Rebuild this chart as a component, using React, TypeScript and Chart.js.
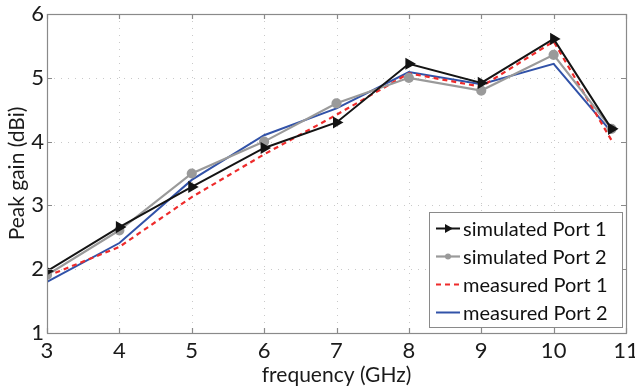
import React, { useEffect, useRef } from "react";
import { Chart, registerables } from "chart.js";
Chart.register(...registerables);

const freq = [3, 4, 5, 6, 7, 8, 9, 10, 10.8];
const simPort1 = [1.97, 2.66, 3.29, 3.9, 4.3, 5.22, 4.92, 5.61, 4.2];
const simPort2 = [1.91, 2.61, 3.5, 4.0, 4.6, 5.0, 4.8, 5.36, 4.2];
const measPort1 = [1.89, 2.35, 3.13, 3.8, 4.42, 5.07, 4.86, 5.57, 4.02];
const measPort2 = [1.8, 2.41, 3.4, 4.1, 4.52, 5.09, 4.9, 5.22, 4.15];
const seriesLabels = ["simulated Port 1", "simulated Port 2", "measured Port 1", "measured Port 2"];
const xTitle = "frequency (GHz)";
const yTitle = "Peak gain (dBi)";

const FONT = "Lato, 'Open Sans', sans-serif";
const BLACK = "#141414";
const GRAY = "#9a9a9a";
const RED = "#ee2b2b";
const BLUE = "#3152a8";
const FRAME = "#8a8a8a";

const pts = (ys: number[]) => ys.map((y, i) => ({ x: freq[i], y }));

const framePlugin = {
  id: "framePlugin",
  beforeDatasetsDraw(chart: any) {
    const { ctx, chartArea: a, scales } = chart;
    const x = scales.x, y = scales.y;
    ctx.save();
    ctx.strokeStyle = "#c9c9c9";
    ctx.lineWidth = 1;
    ctx.setLineDash([1, 6]);
    x.ticks.forEach((t: any) => {
      const px = Math.round(x.getPixelForValue(t.value)) + 0.5;
      if (px <= a.left + 1 || px >= a.right - 1) return;
      ctx.beginPath(); ctx.moveTo(px, a.top); ctx.lineTo(px, a.bottom); ctx.stroke();
    });
    y.ticks.forEach((t: any) => {
      const py = Math.round(y.getPixelForValue(t.value)) + 0.5;
      if (py <= a.top + 1 || py >= a.bottom - 1) return;
      ctx.beginPath(); ctx.moveTo(a.left, py); ctx.lineTo(a.right, py); ctx.stroke();
    });
    ctx.restore();
  },
  afterDatasetsDraw(chart: any) {
    const { ctx, chartArea: a, scales } = chart;
    const x = scales.x, y = scales.y;
    ctx.save();
    ctx.setLineDash([]);
    ctx.strokeStyle = FRAME;
    ctx.lineWidth = 1.2;
    ctx.strokeRect(Math.round(a.left) + 0.5, Math.round(a.top) + 0.5, Math.round(a.right - a.left), Math.round(a.bottom - a.top));
    const tl = 5;
    x.ticks.forEach((t: any) => {
      const px = Math.round(x.getPixelForValue(t.value)) + 0.5;
      ctx.beginPath();
      ctx.moveTo(px, a.bottom); ctx.lineTo(px, a.bottom - tl);
      ctx.moveTo(px, a.top); ctx.lineTo(px, a.top + tl);
      ctx.stroke();
    });
    y.ticks.forEach((t: any) => {
      const py = Math.round(y.getPixelForValue(t.value)) + 0.5;
      ctx.beginPath();
      ctx.moveTo(a.left, py); ctx.lineTo(a.left + tl, py);
      ctx.moveTo(a.right, py); ctx.lineTo(a.right - tl, py);
      ctx.stroke();
    });

    // legend inside plot, lower right
    const bx = 429.5, by = 212.5, bw = 193, bh = 115;
    ctx.fillStyle = "#ffffff";
    ctx.fillRect(bx, by, bw, bh);
    ctx.strokeStyle = FRAME;
    ctx.lineWidth = 1;
    ctx.strokeRect(bx, by, bw, bh);
    ctx.font = `20px ${FONT}`;
    ctx.textBaseline = "middle";
    ctx.textAlign = "left";
    const rowH = 28;
    chart.data.datasets.forEach((ds: any, i: number) => {
      const cy = by + 16 + i * rowH;
      const x0 = 436, x1 = 460;
      ctx.save();
      ctx.strokeStyle = ds.borderColor;
      ctx.lineWidth = ds.borderWidth;
      ctx.setLineDash(ds.borderDash || []);
      ctx.beginPath(); ctx.moveTo(x0, cy); ctx.lineTo(x1, cy); ctx.stroke();
      ctx.setLineDash([]);
      const mx = (x0 + x1) / 2;
      if (ds.pointStyle === "triangle") {
        ctx.fillStyle = ds.pointBackgroundColor;
        ctx.beginPath();
        ctx.moveTo(mx + 5, cy); ctx.lineTo(mx - 3, cy - 4.5); ctx.lineTo(mx - 3, cy + 4.5); ctx.closePath();
        ctx.fill();
      } else if (ds.pointStyle === "circle" && ds.pointRadius > 0) {
        ctx.fillStyle = ds.pointBackgroundColor;
        ctx.beginPath(); ctx.arc(mx, cy, 3, 0, Math.PI * 2); ctx.fill();
      }
      ctx.restore();
      ctx.fillStyle = "#111111";
      ctx.fillText(ds.label, 463, cy + 1);
    });
    ctx.restore();
  },
};

export default function App() {
  const ref = useRef<HTMLCanvasElement | null>(null);
  useEffect(() => {
    document.body.style.margin = "0";
    const canvas = ref.current;
    if (!canvas) return;
    const chart = new Chart(canvas, {
      type: "line",
      data: {
        datasets: [
          {
            label: seriesLabels[0], data: pts(simPort1), borderColor: BLACK, backgroundColor: BLACK,
            borderWidth: 2, pointStyle: "triangle", pointRotation: 90, pointRadius: 5,
            pointBackgroundColor: BLACK, pointBorderColor: BLACK, tension: 0,
          },
          {
            label: seriesLabels[1], data: pts(simPort2), borderColor: GRAY, backgroundColor: GRAY,
            borderWidth: 2.2, pointStyle: "circle", pointRadius: 4, pointBackgroundColor: GRAY,
            pointBorderColor: GRAY, tension: 0,
          },
          {
            label: seriesLabels[2], data: pts(measPort1), borderColor: RED, backgroundColor: RED,
            borderWidth: 2.2, borderDash: [5, 4], pointRadius: 0, pointStyle: "line", tension: 0,
          },
          {
            label: seriesLabels[3], data: pts(measPort2), borderColor: BLUE, backgroundColor: BLUE,
            borderWidth: 2, pointRadius: 0, pointStyle: "line", tension: 0,
          },
        ],
      },
      options: {
        responsive: false,
        animation: false,
        layout: { padding: { top: 14, right: 9, left: 0, bottom: 0 } },
        plugins: { legend: { display: false }, tooltip: { enabled: false } },
        scales: {
          x: {
            type: "linear", min: 3, max: 11,
            ticks: { stepSize: 1, color: "#1a1a1a", font: { family: FONT, size: 22, lineHeight: 1.0 }, padding: 7, maxRotation: 0 },
            grid: { display: false, drawTicks: false },
            border: { display: false },
            title: { display: true, text: xTitle, color: "#1a1a1a", font: { family: FONT, size: 21, lineHeight: 1.0 }, padding: { bottom: 3, top: 0 } },
            afterFit: (s: any) => { s.height = 56; s.paddingLeft = 0; s.paddingRight = 0; },
          },
          y: {
            type: "linear", min: 1, max: 6,
            ticks: { stepSize: 1, color: "#1a1a1a", font: { family: FONT, size: 22, lineHeight: 1.0 }, padding: 3 },
            grid: { display: false, drawTicks: false },
            border: { display: false },
            title: { display: true, text: yTitle, color: "#1a1a1a", font: { family: FONT, size: 21, lineHeight: 1.0 }, padding: { top: 7, bottom: 0 } },
            afterFit: (s: any) => { s.width = 47; s.paddingTop = 0; s.paddingBottom = 0; },
          },
        },
      },
      plugins: [framePlugin],
    });
    return () => chart.destroy();
  }, []);
  return (
    <div style={{ width: 635, height: 389, background: "#fff" }}>
      <canvas ref={ref} width={635} height={389} style={{ display: "block" }} />
    </div>
  );
}
